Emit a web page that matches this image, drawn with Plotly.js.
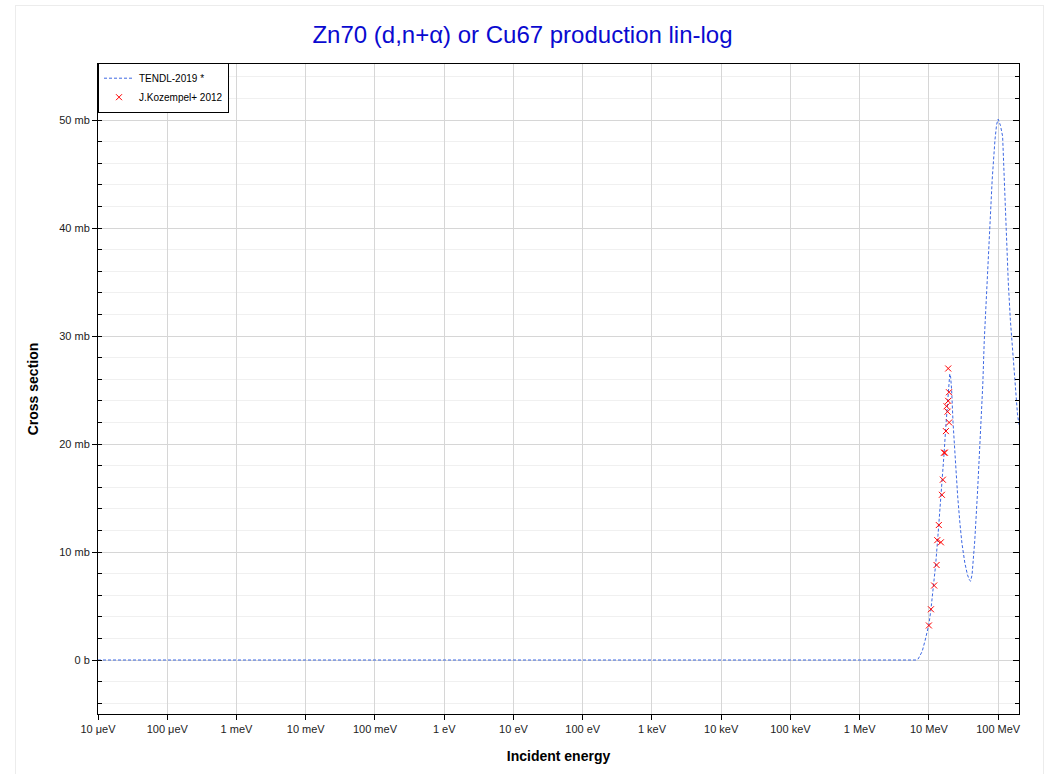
<!DOCTYPE html>
<html>
<head>
<meta charset="utf-8">
<script src="https://cdn.plot.ly/plotly-3.0.1.min.js"></script>
<style>
  html, body { margin: 0; padding: 0; background: #ffffff; }
  #wrap { position: relative; width: 1045px; height: 774px; overflow: hidden; }
  #chart { position: absolute; left: 0; top: 0; width: 1045px; height: 774px; }
  #frame { position: absolute; left: 15px; top: 5px; width: 1027px; height: 800px; border: 1px solid #ececec; pointer-events: none; }
</style>
</head>
<body>
<div id="wrap">
  <div id="chart"></div>
  <div id="frame"></div>
</div>
<script>
// TENDL-2019 evaluated curve: incident energy (eV) and cross section (mb)
const tendlEnergy = [
  1e-5, 1e6, 6.5e6, 7.0e6, 7.5e6, 8.0e6, 8.8e6, 9.5e6, 10e6, 10.7e6, 11.5e6, 12.5e6,
  13.5e6, 14.5e6, 15.5e6, 16.5e6, 17.5e6, 18.5e6, 19.3e6, 20.0e6, 20.6e6, 21.3e6,
  22.3e6, 23.8e6, 26e6, 28e6, 30e6, 33e6, 36e6, 38.5e6, 40e6, 42e6, 44e6, 46e6,
  50.5e6, 54.6e6, 60e6, 63e6, 70e6, 76e6, 82e6, 90e6, 95e6, 100e6, 108e6, 116e6,
  122e6, 129e6, 140e6, 150e6, 161e6, 175e6, 190e6, 200e6
];
const tendlSigma = [
  0, 0, 0, 0.1, 0.4, 0.8, 1.8, 2.6, 3.3, 4.7, 6.6, 8.8,
  11.5, 14.0, 16.3, 19.0, 21.5, 23.8, 25.4, 26.5, 26.2, 25.0,
  22.0, 18.8, 15.2, 12.7, 10.8, 9.0, 7.9, 7.4, 7.3, 7.9, 9.3, 11.1,
  15.7, 19.7, 25.5, 29.6, 35.5, 40.1, 44.5, 48.2, 49.6, 50.1, 49.5, 48.5,
  44.5, 40.1, 35.0, 31.5, 28.7, 25.5, 22.8, 21.8
];

// J.Kozempel+ 2012 experimental points: energy (eV), cross section (mb)
const expEnergy = [
  10.0e6, 10.7e6, 11.9e6, 12.9e6, 13.2e6, 14.9e6, 13.9e6, 15.4e6, 15.9e6,
  16.5e6, 17.0e6, 17.6e6, 19.6e6, 18.6e6, 18.0e6, 19.0e6, 19.5e6, 19.0e6
];
const expSigma = [
  3.2, 4.7, 6.9, 8.8, 11.1, 10.9, 12.5, 15.3, 16.7,
  19.2, 19.2, 21.2, 22.0, 23.0, 23.5, 24.0, 24.8, 27.0
];

// Axis tick labels
const xTickVals = [1e-5, 1e-4, 1e-3, 1e-2, 1e-1, 1, 10, 100, 1e3, 1e4, 1e5, 1e6, 1e7, 1e8];
const xTickText = ["10 μeV", "100 μeV", "1 meV", "10 meV", "100 meV", "1 eV", "10 eV",
                   "100 eV", "1 keV", "10 keV", "100 keV", "1 MeV", "10 MeV", "100 MeV"];
const yTickVals = [0, 10, 20, 30, 40, 50];
const yTickText = ["0 b", "10 mb", "20 mb", "30 mb", "40 mb", "50 mb"];

const seriesNames = ["TENDL-2019 *", "J.Kozempel+ 2012"];

const yRange = [-5, 55.2];
const fontFam = "Liberation Sans, Arial, sans-serif";

const traces = [
  {
    x: tendlEnergy, y: tendlSigma, name: seriesNames[0],
    type: "scatter", mode: "lines",
    line: { color: "#3d68e3", width: 1, dash: "3px,2px" },
    hoverinfo: "skip"
  },
  {
    x: expEnergy, y: expSigma, name: seriesNames[1],
    type: "scatter", mode: "markers",
    marker: { symbol: "x-thin-open", size: 6, color: "#ff0000", line: { color: "#ff0000", width: 1 } },
    hoverinfo: "skip"
  },
  {
    x: [], y: [], yaxis: "y2", showlegend: false, type: "scatter", mode: "lines", hoverinfo: "skip"
  }
];

const layout = {
  width: 1045, height: 774,
  margin: { l: 98, r: 26, t: 64, b: 60 },
  paper_bgcolor: "rgba(0,0,0,0)",
  plot_bgcolor: "#ffffff",
  font: { family: fontFam, size: 11, color: "#222222" },
  showlegend: true,
  title: {
    text: "Zn70 (d,n+α) or Cu67 production lin-log",
    font: { family: fontFam, size: 24, color: "#0a0ad0" },
    x: 0.5, xref: "container", xanchor: "center",
    y: 1 - 35 / 774, yref: "container", yanchor: "middle"
  },
  legend: {
    x: 0, y: 1.002, xanchor: "left", yanchor: "top",
    bgcolor: "#ffffff", bordercolor: "#000000", borderwidth: 1,
    font: { family: fontFam, size: 10, color: "#000000" },
    tracegroupgap: 0, itemwidth: 30
  },
  xaxis: {
    type: "log",
    range: [-5, Math.log10(2e8)],
    tickmode: "array", tickvals: xTickVals, ticktext: xTickText,
    ticks: "outside", ticklen: 5, tickcolor: "#000000", tickwidth: 1,
    showline: true, linecolor: "#000000", linewidth: 1, mirror: true,
    showgrid: true, gridcolor: "#d6d6d6", gridwidth: 1,
    zeroline: false,
    tickfont: { family: fontFam, size: 11, color: "#222222" },
    title: { text: "<b>Incident energy</b>", font: { family: fontFam, size: 14, color: "#000000" }, standoff: 16 }
  },
  yaxis: {
    range: yRange,
    tickmode: "array", tickvals: yTickVals, ticktext: yTickText,
    ticks: "outside", ticklen: 5, tickcolor: "#000000", tickwidth: 1,
    showline: true, linecolor: "#000000", linewidth: 1, mirror: true,
    showgrid: true, gridcolor: "#d6d6d6", gridwidth: 1,
    zeroline: false,
    minor: { tickmode: "linear", tick0: 0, dtick: 2, ticks: "inside", ticklen: 4, tickcolor: "#000000", showgrid: true, gridcolor: "#f0f0f0", gridwidth: 1 },
    tickfont: { family: fontFam, size: 11, color: "#222222" },
    title: { text: "<b>Cross section</b>", font: { family: fontFam, size: 14, color: "#000000" }, standoff: 17 }
  },
  yaxis2: {
    overlaying: "y", side: "right", range: yRange,
    tickmode: "array", tickvals: yTickVals, showticklabels: false,
    ticks: "inside", ticklen: 6, tickcolor: "#000000",
    minor: { tickmode: "linear", tick0: 0, dtick: 2, ticks: "inside", ticklen: 4, tickcolor: "#000000", showgrid: false },
    showgrid: false, zeroline: false, showline: false
  }
};

Plotly.newPlot("chart", traces, layout, { displayModeBar: false, staticPlot: true });
</script>
</body>
</html>
